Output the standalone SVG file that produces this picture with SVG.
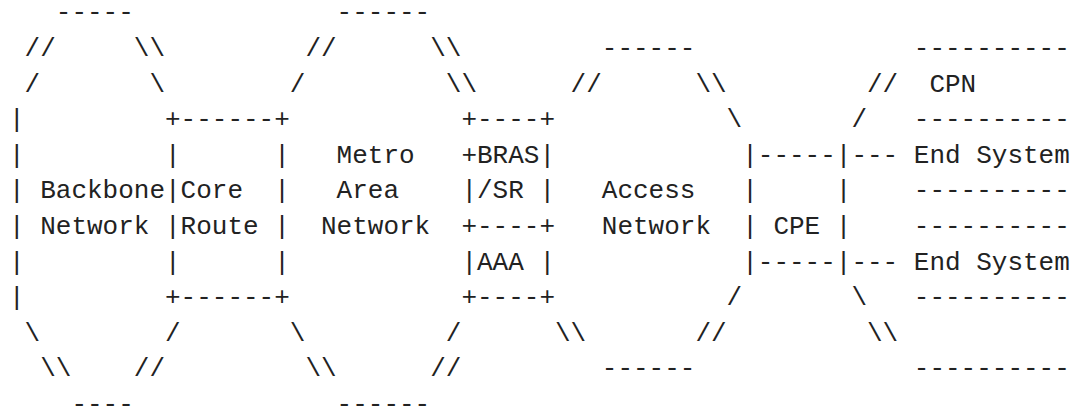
<svg xmlns="http://www.w3.org/2000/svg" width="1073" height="411" viewBox="0 0 1073 411">
<style>
text{font-family:"Liberation Mono","DejaVu Sans Mono",monospace;font-size:26px;fill:#222}
</style>
<rect width="1073" height="411" fill="#fff"/>
<g id="backbone-network">
<text x="55.8" y="20.3">-----</text>
<text x="24.6" y="55.9">//</text><text x="133.8" y="55.9">\\</text>
<text x="24.6" y="91.5">/</text><text x="149.4" y="91.5">\</text>
<text x="9" y="127.1">|</text>
<text x="9" y="162.7">|</text>
<text x="9" y="198.3">|</text><text x="40.2" y="198.3">Backbone</text>
<text x="9" y="233.9">|</text><text x="40.2" y="233.9">Network</text>
<text x="9" y="269.5">|</text>
<text x="9" y="305.1">|</text>
<text x="24.6" y="340.7">\</text><text x="165" y="340.7">/</text>
<text x="40.2" y="376.3">\\</text><text x="133.8" y="376.3">//</text>
<text x="71.4" y="411.9">----</text>
</g>
<g id="core-router">
<text x="165" y="127.1">+------+</text>
<text x="165" y="162.7">|</text><text x="274.2" y="162.7">|</text>
<text x="165" y="198.3">|Core</text><text x="274.2" y="198.3">|</text>
<text x="165" y="233.9">|Route</text><text x="274.2" y="233.9">|</text>
<text x="165" y="269.5">|</text><text x="274.2" y="269.5">|</text>
<text x="165" y="305.1">+------+</text>
</g>
<g id="metro-area-network">
<text x="336.6" y="20.3">------</text>
<text x="305.4" y="55.9">//</text><text x="430.2" y="55.9">\\</text>
<text x="289.8" y="91.5">/</text><text x="445.8" y="91.5">\\</text>
<text x="336.6" y="162.7">Metro</text>
<text x="336.6" y="198.3">Area</text>
<text x="321" y="233.9">Network</text>
<text x="289.8" y="340.7">\</text><text x="445.8" y="340.7">/</text>
<text x="305.4" y="376.3">\\</text><text x="430.2" y="376.3">//</text>
<text x="336.6" y="411.9">------</text>
</g>
<g id="bras-sr">
<text x="461.4" y="127.1">+----+</text>
<text x="461.4" y="162.7">+BRAS|</text>
<text x="461.4" y="198.3">|/SR</text><text x="539.4" y="198.3">|</text>
<text x="461.4" y="233.9">+----+</text>
</g>
<g id="aaa">
<text x="461.4" y="269.5">|AAA</text><text x="539.4" y="269.5">|</text>
<text x="461.4" y="305.1">+----+</text>
</g>
<g id="access-network">
<text x="601.8" y="55.9">------</text>
<text x="570.6" y="91.5">//</text><text x="695.4" y="91.5">\\</text>
<text x="726.6" y="127.1">\</text>
<text x="601.8" y="198.3">Access</text>
<text x="601.8" y="233.9">Network</text>
<text x="726.6" y="305.1">/</text>
<text x="555" y="340.7">\\</text><text x="695.4" y="340.7">//</text>
<text x="601.8" y="376.3">------</text>
</g>
<g id="cpe">
<text x="742.2" y="162.7">|-----|</text>
<text x="742.2" y="198.3">|</text><text x="835.8" y="198.3">|</text>
<text x="742.2" y="233.9">|</text><text x="773.4" y="233.9">CPE</text><text x="835.8" y="233.9">|</text>
<text x="742.2" y="269.5">|-----|</text>
</g>
<g id="cpn">
<text x="913.8" y="55.9">----------</text>
<text x="867" y="91.5">//</text><text x="929.4" y="91.5">CPN</text>
<text x="851.4" y="127.1">/</text><text x="913.8" y="127.1">----------</text>
<text x="851.4" y="305.1">\</text><text x="913.8" y="305.1">----------</text>
<text x="867" y="340.7">\\</text>
<text x="913.8" y="376.3">----------</text>
</g>
<g id="end-system-1">
<text x="913.8" y="162.7">End System</text>
<text x="913.8" y="198.3">----------</text>
</g>
<g id="end-system-2">
<text x="913.8" y="233.9">----------</text>
<text x="913.8" y="269.5">End System</text>
</g>
<g id="connectors">
<text x="851.4" y="162.7">---</text>
<text x="851.4" y="269.5">---</text>
</g>
</svg>
